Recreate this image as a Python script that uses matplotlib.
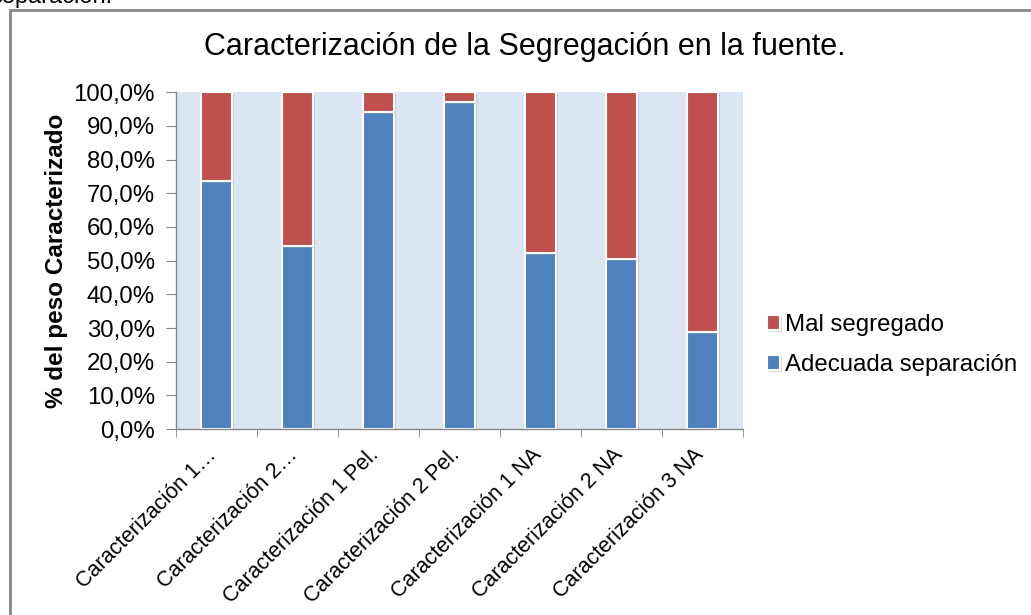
import matplotlib.pyplot as plt
import matplotlib.patheffects as pe
import matplotlib.transforms as mtransforms
from matplotlib.patches import Rectangle
from matplotlib.ticker import FuncFormatter, FixedLocator
import numpy as np

plt.rcParams['font.family'] = ['Liberation Sans', 'DejaVu Sans']

# Datos
categorias = ['Caracterización 1…', 'Caracterización 2…', 'Caracterización 1 Pel.',
              'Caracterización 2 Pel.', 'Caracterización 1 NA', 'Caracterización 2 NA',
              'Caracterización 3 NA']
adecuada = [73.7, 54.4, 94.2, 97.2, 52.3, 50.5, 28.9]
mal_segregado = [26.3, 45.6, 5.8, 2.8, 47.7, 49.5, 71.1]

azul = '#4F81BD'
rojo = '#C0504D'
fondo = '#DCE6F2'
gris = '#868686'

fig = plt.figure(figsize=(10.31, 6.15), dpi=100)
ax = fig.add_axes([0.1704, 0.3024, 0.5506, 0.5475])
ax.set_facecolor(fondo)

x = np.arange(len(categorias))
sombra = [pe.SimplePatchShadow(offset=(1.5, -1.5), shadow_rgbFace='#8a93a0', alpha=0.35), pe.Normal()]
b1 = ax.bar(x, adecuada, width=0.38, color=azul, edgecolor='white', linewidth=1.5,
            label='Adecuada separación', path_effects=sombra)
b2 = ax.bar(x, mal_segregado, width=0.38, bottom=adecuada, color=rojo, edgecolor='white',
            linewidth=1.5, label='Mal segregado', path_effects=sombra)

ax.set_xlim(-0.5, len(categorias) - 0.5)
ax.set_ylim(0, 100)
ax.set_yticks(np.arange(0, 101, 10))
ax.yaxis.set_major_formatter(FuncFormatter(lambda v, p: f'{v:.1f}%'.replace('.', ',')))
ax.tick_params(axis='y', labelsize=17.3, length=7, color=gris, pad=8)

ax.set_xticks(x)
ax.set_xticklabels(categorias, rotation=45, ha='right', rotation_mode='anchor', fontsize=15.5)
ax.tick_params(axis='x', which='major', length=0, pad=14)
# desplazar las etiquetas para que terminen bajo el centro de cada barra
desplazamiento = mtransforms.ScaledTranslation(-0.10, 0.04, fig.dpi_scale_trans)
for etiqueta in ax.get_xticklabels():
    etiqueta.set_transform(etiqueta.get_transform() + desplazamiento)
ax.xaxis.set_minor_locator(FixedLocator(np.arange(-0.5, len(categorias), 1.0)))
ax.tick_params(axis='x', which='minor', length=6, color=gris, direction='out')

for lado in ['top', 'right']:
    ax.spines[lado].set_visible(False)
for lado in ['left', 'bottom']:
    ax.spines[lado].set_color(gris)
    ax.spines[lado].set_linewidth(1.0)

ax.set_ylabel('% del peso Caracterizado', fontsize=17.5, fontweight='bold', labelpad=4)
fig.text(0.509, 0.924, 'Caracterización de la Segregación en la fuente.', fontsize=22,
         ha='center', va='center')

ax.legend(handles=[b2, b1], loc='center left', bbox_to_anchor=(1.024, 0.25), frameon=False,
          fontsize=17.3, handlelength=0.55, handleheight=0.55, handletextpad=0.2,
          labelspacing=0.75, borderaxespad=0)

# marco del gráfico y texto del documento cortado arriba
fig.add_artist(Rectangle((9.5 / 1031, -0.1), 1.2, 1 - 9.5 / 615 + 0.1, transform=fig.transFigure,
                         fill=False, edgecolor=gris, linewidth=2, clip_on=False))
fig.text(-10 / 1031, 1 - 3 / 615, 'separación.', fontsize=17, ha='left', va='baseline')

fig.savefig('out.png', dpi=100)
